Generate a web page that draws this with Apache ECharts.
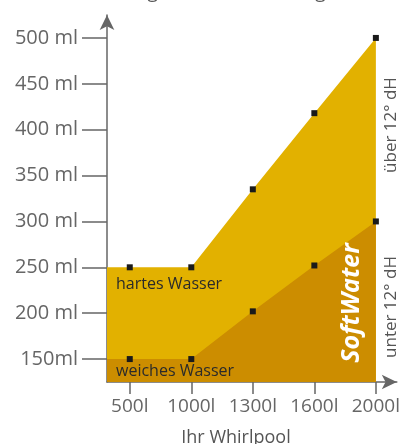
<!DOCTYPE html>
<html>
<head>
<meta charset="utf-8">
<script src="https://cdn.jsdelivr.net/npm/echarts@6/dist/echarts.min.js"></script>
<style>html,body{margin:0;padding:0;background:#fff;}#c{width:403px;height:444px;}</style>
</head>
<body>
<div id="c"></div>
<script>
const categories = ['500l', '1000l', '1300l', '1600l', '2000l'];
const hartesWasser = [250, 250, 335, 418, 500];
const weichesWasser = [150, 150, 202, 252, 300];
const yTickValues = [150, 200, 250, 300, 350, 400, 450, 500];
const yTickLabels = ['150ml', '200 ml', '250 ml', '300 ml', '350 ml', '400 ml', '450 ml', '500 ml'];

const FONT = '"Open Sans", sans-serif';
const xMin = -0.37, xMax = 4.34;
const xIdx = categories.map((c, i) => i);

function buildData(arr) {
  const d = [{ value: [xMin, arr[0]], symbol: 'none' }];
  arr.forEach((v, i) => d.push([i, v]));
  return d;
}

const chart = echarts.init(document.getElementById('c'));
chart.setOption({
  animation: false,
  backgroundColor: '#fff',
  grid: { left: 107, right: 5, top: 15, bottom: 62 },
  xAxis: {
    type: 'value', min: xMin, max: xMax,
    splitLine: { show: false },
    axisLine: { show: true, onZero: false, lineStyle: { color: '#666', width: 1.5 }, symbol: ['none', 'arrow'], symbolSize: [11, 15] },
    axisTick: { show: true, customValues: xIdx, length: 12, lineStyle: { color: '#666', width: 1.5 } },
    axisLabel: { customValues: xIdx, formatter: v => categories[Math.round(v)], color: '#666', fontSize: 19, fontFamily: FONT, margin: 15 }
  },
  yAxis: {
    type: 'value', min: 125, max: 525,
    splitLine: { show: false },
    axisLine: { show: true, onZero: false, lineStyle: { color: '#666', width: 1.5 }, symbol: ['none', 'arrow'], symbolSize: [11, 15] },
    axisTick: { show: true, customValues: yTickValues, length: 25, lineStyle: { color: '#666', width: 1.5 } },
    axisLabel: { customValues: yTickValues, formatter: v => yTickLabels[yTickValues.indexOf(v)], color: '#666', fontSize: 20, fontFamily: FONT, margin: 29 }
  },
  series: [
    {
      type: 'line', data: buildData(hartesWasser),
      symbol: 'rect', symbolSize: 6, itemStyle: { color: '#1a1a1a' },
      lineStyle: { width: 0 }, areaStyle: { color: '#E2B100', opacity: 1, origin: 'start' },
      z: 2
    },
    {
      type: 'line', data: buildData(weichesWasser),
      symbol: 'rect', symbolSize: 6, itemStyle: { color: '#1a1a1a' },
      lineStyle: { width: 0 }, areaStyle: { color: '#CC8D00', opacity: 1, origin: 'start' },
      z: 3
    }
  ],
  graphic: [
    { type: 'text', left: 'center', top: -17, style: { text: 'Dosierung nach Wassermenge', fill: '#555', font: '19px ' + FONT } },
    { type: 'text', x: 116, y: 284, z: 10, style: { text: 'hartes Wasser', fill: '#2a2a2a', font: '16px ' + FONT, verticalAlign: 'middle' } },
    { type: 'text', x: 116, y: 371, z: 10, style: { text: 'weiches Wasser', fill: '#2a2a2a', font: '16px ' + FONT, verticalAlign: 'middle' } },
    { type: 'text', x: 352, y: 303, rotation: Math.PI / 2, z: 10, style: { text: 'SoftWater', fill: '#fff', font: 'italic bold 25px ' + FONT, align: 'center', verticalAlign: 'middle' } },
    { type: 'text', x: 391, y: 125, rotation: Math.PI / 2, z: 10, style: { text: 'über 12° dH', fill: '#555', font: '17px ' + FONT, align: 'center', verticalAlign: 'middle' } },
    { type: 'text', x: 391, y: 307, rotation: Math.PI / 2, z: 10, style: { text: 'unter 12° dH', fill: '#555', font: '17px ' + FONT, align: 'center', verticalAlign: 'middle' } },
    { type: 'text', x: 236, y: 438, z: 10, style: { text: 'Ihr Whirlpool', fill: '#555', font: '18px ' + FONT, align: 'center', verticalAlign: 'middle' } }
  ]
});
</script>
</body>
</html>
